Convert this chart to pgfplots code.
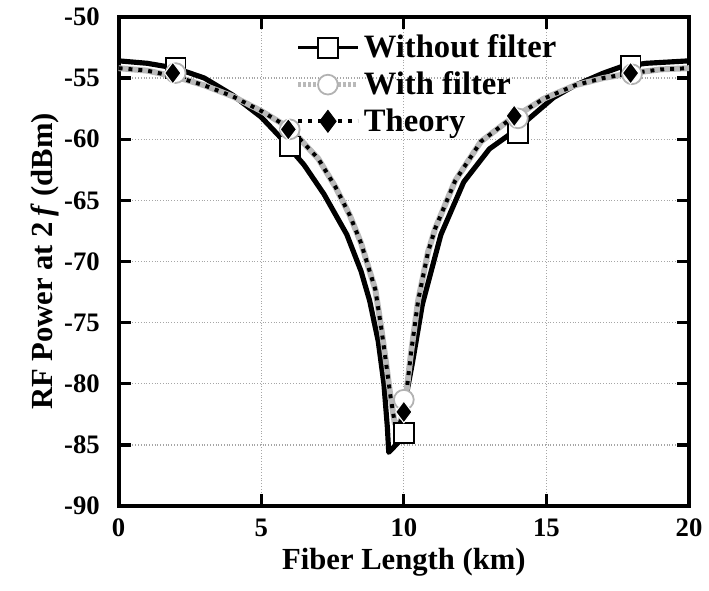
\documentclass[border=0pt]{standalone}
\usepackage{fontspec}
\setmainfont{Liberation Serif}
\usepackage{pgfplots}
\pgfplotsset{compat=1.18}
\begin{document}
\begin{tikzpicture}
\begin{axis}[
  scale only axis,
  width=288.5pt, height=247.5pt,
  xmin=0, xmax=20, ymin=-90, ymax=-50,
  xtick={0,5,10,15,20}, ytick={-90,-85,...,-50},
  tick align=inside,
  major tick length=6pt,
  every tick/.style={black, line width=1.6pt},
  axis line style={line width=2pt},
  grid=major,
  major grid style={gray!70, densely dotted, line width=0.6pt},
  /pgf/number format/assume math mode=true,
  ticklabel style={font=\bfseries\fontsize{13.5}{15}\selectfont},
  xticklabel style={yshift=-3pt},
  yticklabel style={xshift=-6pt},
  xlabel={\bfseries Fiber Length (km)},
  ylabel={\bfseries RF Power at 2\,\textit{f} (dBm)},
  label style={font=\bfseries\fontsize{15.5}{17}\selectfont},
  xlabel style={yshift=1pt},
  ylabel style={yshift=-4pt},
  clip=false,
  legend style={draw=none, fill=none, at={(0.31,0.972)}, anchor=north west,
    font=\bfseries\fontsize{16.5}{17}\selectfont, row sep=1.5pt, inner sep=0pt,
    legend cell align=left},
  legend image code/.code={
    \draw[#1] (0pt,0pt) -- (30pt,0pt);
    \draw[#1, only marks] plot coordinates {(15pt,0pt)};
  },
]
% legend entries
\addlegendimage{black, line width=1.6pt, mark=square*, mark size=5pt, mark options={fill=white, solid, line width=0.9pt}}
\addlegendentry{Without filter}
\addlegendimage{gray!55, line width=2.4pt, dash pattern=on 1.5pt off 1pt, mark=*, mark size=5pt, mark options={fill=white, draw=gray!60, solid, line width=0.9pt}}
\addlegendentry{With filter}
\addlegendimage{black, line width=2.2pt, dash pattern=on 2pt off 3pt, mark=diamond*, mark size=5.5pt, mark options={fill=black, solid, line width=0.5pt}}
\addlegendentry{Theory}
% without filter curve
\addplot[black, line width=2.6pt, line join=round, forget plot] coordinates {
(0,-53.6) (1,-53.8) (2,-54.2) (3,-55.0) (4,-56.4) (5,-58.2) (5.65,-59.8)
(6.5,-62.1) (7.2,-64.5) (8,-67.8) (8.5,-70.8) (8.8,-73.2) (9.1,-76.5)
(9.3,-80.0) (9.42,-83.5) (9.47,-85.6) (9.8,-84.8) (10.0,-82.0) (10.3,-78.3)
(10.65,-73.5) (11.3,-67.8) (12.1,-63.5) (13.0,-60.8) (13.9,-59.3)
(14.9,-57.3) (15.25,-56.6) (16,-55.6) (17,-54.6) (17.6,-54.1) (18.5,-53.8) (20,-53.6)};
% with filter curve (gray) and theory (dotted)
\addplot[gray!55, line width=3pt, line join=round, forget plot] coordinates {
(0,-54.2) (1,-54.4) (2,-54.9) (3,-55.6) (4,-56.5) (5,-57.7) (6,-59.1)
(7,-61.6) (7.6,-63.9) (8.1,-66.2) (8.5,-68.5) (9.0,-72.3) (9.2,-75.3)
(9.36,-78.0) (9.53,-81.0) (9.68,-83.2) (9.8,-83.6) (9.95,-82.6) (10.1,-80.5) (10.25,-77.5)
(10.5,-73.2) (10.85,-69.2) (11.1,-67.3) (11.8,-63.4) (12.7,-60.2)
(13.6,-58.6) (14.9,-56.7) (16,-55.6) (17,-55.0) (18,-54.6) (19,-54.3) (20,-54.2)};
\addplot[black, line width=2pt, dash pattern=on 2pt off 3pt, forget plot] coordinates {
(0,-54.2) (1,-54.4) (2,-54.9) (3,-55.6) (4,-56.5) (5,-57.7) (6,-59.1)
(7,-61.6) (7.6,-63.9) (8.1,-66.2) (8.5,-68.5) (9.0,-72.3) (9.2,-75.3)
(9.36,-78.0) (9.53,-81.0) (9.68,-83.2) (9.8,-83.6) (9.95,-82.6) (10.1,-80.5) (10.25,-77.5)
(10.5,-73.2) (10.85,-69.2) (11.1,-67.3) (11.8,-63.4) (12.7,-60.2)
(13.6,-58.6) (14.9,-56.7) (16,-55.6) (17,-55.0) (18,-54.6) (19,-54.3) (20,-54.2)};
% markers
\addplot[only marks, mark=square*, mark size=5pt, mark options={fill=white, draw=black, line width=0.9pt}, forget plot] coordinates {
(2,-54.2) (6,-60.6) (10,-84.0) (14,-59.5) (17.95,-54.0)};
\addplot[only marks, mark=*, mark size=5pt, mark options={fill=white, draw=gray!60, line width=0.9pt}, forget plot] coordinates {
(2,-54.6) (6,-59.2) (10,-81.3) (14,-58.3) (18,-54.7)};
\addplot[only marks, mark=diamond*, mark size=5.5pt, mark options={fill=black, draw=white, line width=0.5pt}, forget plot] coordinates {
(1.9,-54.6) (5.95,-59.2) (10,-82.3) (13.87,-58.1) (17.95,-54.6)};
\end{axis}
\path ([shift={(-60pt,-42.5pt)}]current axis.south west) rectangle ([shift={(6pt,8.5pt)}]current axis.north east);
\end{tikzpicture}
\end{document}
